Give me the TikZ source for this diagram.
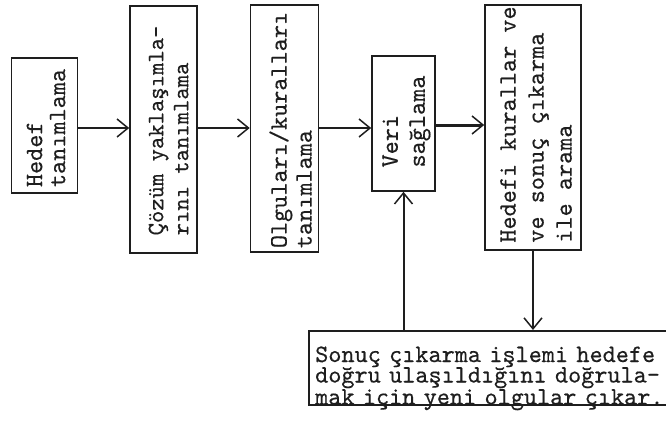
\documentclass[tikz,border=0pt]{standalone}
\usepackage{fontspec}
\usepackage{graphicx}
\usetikzlibrary{arrows.meta}
\newfontfamily\tw[FakeBold=0.4]{lmmono10-regular.otf}
\definecolor{ink}{HTML}{1E1E1E}
% rotated block of left-aligned lines; #1 = distance between baselines
\newcommand{\vtext}[2]{\rotatebox{90}{\vbox{\baselineskip=#1\lineskiplimit=-50pt\lineskip=0pt #2}}}
\tikzset{
  x=1pt, y=-1pt,
  every node/.style={font=\tw\fontsize{25}{20.5}\selectfont, text=ink},
  stepbox/.style={draw=ink, line width=1.6pt, rectangle, inner sep=0pt},
  vlabel/.style={inner sep=0pt},
  arr/.style={draw=ink, line width=2pt, -{Straight Barb[length=11pt,width=18pt,line width=1.5pt]}},
}
\begin{document}
\begin{tikzpicture}
\useasboundingbox (0,0) rectangle (666,424);
% process boxes, left to right
\node[stepbox, minimum width=66pt, minimum height=135pt] (b1) at (44.5,125.5) {};
\node[vlabel, shift={(1.5,2.5)}] (b1t) at (b1)
  {\vtext{23pt}{\hbox{Hedef}\hbox{tanımlama}}};
\node[stepbox, minimum width=67pt, minimum height=247pt] (b2) at (163.5,129.5) {};
\node[vlabel, shift={(5,1)}, font=\tw\fontsize{23.5}{20.5}\selectfont] (b2t) at (b2)
  {\vtext{25pt}{\hbox{Çözüm yaklaşımla-}\hbox{rını tanımlama}}};
\node[stepbox, minimum width=68pt, minimum height=247pt] (b3) at (284.5,128.5) {};
\node[vlabel, shift={(6,1.5)}] (b3t) at (b3)
  {\vtext{25pt}{\hbox{Olguları/kuralları}\hbox{tanımlama}}};
\node[stepbox, minimum width=63pt, minimum height=135pt] (b4) at (403.5,123.5) {};
\node[vlabel, shift={(3,-2)}] (b4t) at (b4)
  {\vtext{27pt}{\hbox{Veri}\hbox{sağlama}}};
\node[stepbox, minimum width=96pt, minimum height=245pt] (b5) at (533,127.5) {};
\node[vlabel, shift={(3,-3)}] (b5t) at (b5)
  {\vtext{28pt}{\hbox{Hedefi kurallar ve}\hbox{ve sonuç çıkarma}\hbox{ile arama}}};
% inference box at the bottom (runs past the right edge)
\node[stepbox, minimum width=366pt, minimum height=74pt, anchor=north west] (b6) at (308,330) {};
\node[anchor=base west, text width=356pt, align=left, inner sep=0pt] (b6t) at (315,362)
  {Sonuç çıkarma işlemi hedefe\\doğru ulaşıldığını doğrula-\\mak için yeni olgular çıkar.};
% connectors
\coordinate (m1) at (0,128);
\coordinate (m2) at (0,125);
\draw[arr] (b1.east |- m1) -- (b2.west |- m1);
\draw[arr] (b2.east |- m1) -- (b3.west |- m1);
\draw[arr] (b3.east |- m1) -- (b4.west |- m1);
\draw[arr, line width=3pt] (b4.east |- m2) -- (b5.west |- m2);
\draw[arr] (b5.south) -- (b5.south |- b6.north);
\draw[arr] (b6.north -| b4.south) -- (b4.south);
\end{tikzpicture}
\end{document}
